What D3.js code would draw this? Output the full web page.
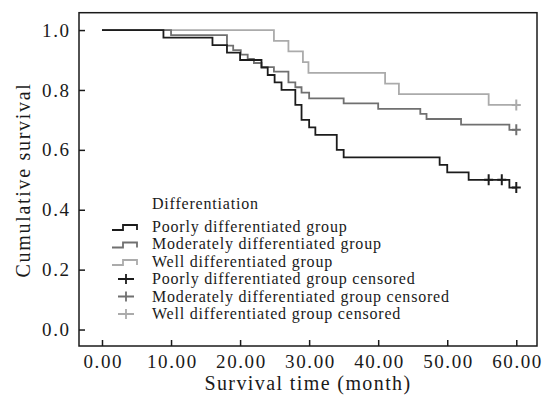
<!DOCTYPE html>
<html>
<head>
<meta charset="utf-8">
<script src="https://cdn.jsdelivr.net/npm/d3@7"></script>
<style>
  body { margin: 0; background: #fff; }
  text { font-family: "Liberation Serif", "Times New Roman", serif; fill: #1a1a1a; }
</style>
</head>
<body>
<div id="chart"></div>
<script>
// Kaplan-Meier steps (time in months, survival)
const poorTime = [0, 8.9, 16.0, 18.1, 20.0, 23.1, 24.0, 25.0, 26.0, 28.0, 28.9, 30.0, 30.9, 34.0, 35.0, 48.9, 50.0, 53.1, 59.0, 60.0];
const poorSurv = [1, 0.975, 0.95, 0.925, 0.9, 0.875, 0.85, 0.825, 0.8, 0.75, 0.70, 0.675, 0.65, 0.60, 0.575, 0.55, 0.525, 0.5, 0.474, 0.474];
const modTime = [0, 10.0, 18.1, 19.0, 20.1, 21.1, 22.0, 23.1, 24.9, 27.0, 28.0, 28.9, 30.0, 35.0, 40.0, 46.1, 47.0, 52.0, 59.0, 60.0];
const modSurv = [1, 0.983, 0.948, 0.933, 0.918, 0.904, 0.89, 0.876, 0.861, 0.825, 0.809, 0.791, 0.772, 0.755, 0.737, 0.72, 0.703, 0.684, 0.667, 0.667];
const wellTime = [0, 24.9, 27.0, 29.1, 29.9, 41.0, 43.0, 56.0, 60.0];
const wellSurv = [1, 0.964, 0.929, 0.893, 0.857, 0.821, 0.786, 0.75, 0.75];

const poorCensTime = [56.0, 57.9, 60.0];
const poorCensSurv = [0.5, 0.5, 0.474];
const modCensTime = [60.0];
const modCensSurv = [0.667];
const wellCensTime = [60.0];
const wellCensSurv = [0.75];

const xTicks = [0, 10, 20, 30, 40, 50, 60];
const yTicks = [0, 0.2, 0.4, 0.6, 0.8, 1.0];

const groups = ["Poorly differentiated group", "Moderately differentiated group", "Well differentiated group"];
const colors = ["#1c1c1c", "#707070", "#ababab"];

const width = 542, height = 400;
const margin = {top: 12.7, right: 5, bottom: 54, left: 79};

const x = d3.scaleLinear().domain([-3.33, 63.0]).range([margin.left, width - margin.right]);
const y = d3.scaleLinear().domain([-0.055, 1.058]).range([height - margin.bottom, margin.top]);

const svg = d3.select('#chart').append('svg')
  .attr('width', width)
  .attr('height', height)
  .attr('viewBox', `0 0 ${width} ${height}`);

// frame
svg.append('rect')
  .attr('x', margin.left).attr('y', margin.top)
  .attr('width', width - margin.left - margin.right)
  .attr('height', height - margin.top - margin.bottom)
  .attr('fill', 'none').attr('stroke', '#1a1a1a').attr('stroke-width', 1.5);

// axes with inward ticks
const xAxis = svg.append('g')
  .attr('transform', `translate(0,${height - margin.bottom})`)
  .call(d3.axisBottom(x).tickValues(xTicks).tickSize(-6).tickPadding(9).tickFormat(d3.format('.2f')));
const yAxis = svg.append('g')
  .attr('transform', `translate(${margin.left},0)`)
  .call(d3.axisLeft(y).tickValues(yTicks).tickSize(-6).tickPadding(10).tickFormat(d3.format('.1f')));

[xAxis, yAxis].forEach(a => {
  a.select('.domain').remove();
  a.selectAll('.tick line').attr('stroke', '#1a1a1a').attr('stroke-width', 1.5);
  a.selectAll('.tick text')
    .style('font-size', '19px')
    .style('letter-spacing', '1.6px')
    .attr('fill', '#1a1a1a');
});
xAxis.selectAll('.tick text').attr('dx', '0.8');
yAxis.selectAll('.tick text').attr('dx', '1.6');

svg.append('text')
  .attr('x', (margin.left + width - margin.right) / 2)
  .attr('y', 390)
  .attr('text-anchor', 'middle')
  .style('font-size', '20px')
  .style('letter-spacing', '1.4px')
  .text('Survival time (month)');

svg.append('text')
  .attr('transform', `translate(30,180) rotate(-90)`)
  .attr('text-anchor', 'middle')
  .style('font-size', '20px')
  .style('letter-spacing', '1.7px')
  .text('Cumulative survival');

// survival curves
const line = d3.line()
  .x(d => x(d[0]))
  .y(d => y(d[1]))
  .curve(d3.curveStepAfter);

const series = [
  d3.zip(poorTime, poorSurv),
  d3.zip(modTime, modSurv),
  d3.zip(wellTime, wellSurv)
];
const censored = [
  d3.zip(poorCensTime, poorCensSurv),
  d3.zip(modCensTime, modCensSurv),
  d3.zip(wellCensTime, wellCensSurv)
];

// draw light first so dark sits on top
[2, 1, 0].forEach(i => {
  svg.append('path')
    .datum(series[i])
    .attr('d', line)
    .attr('fill', 'none')
    .attr('stroke', colors[i])
    .attr('stroke-width', 1.8);

  svg.append('g').selectAll('path')
    .data(censored[i])
    .join('path')
    .attr('d', d => `M${x(d[0]) - 4.5},${y(d[1])}H${x(d[0]) + 4.5}M${x(d[0])},${y(d[1]) - 5.5}V${y(d[1]) + 5.5}`)
    .attr('stroke', colors[i])
    .attr('stroke-width', 2)
    .attr('fill', 'none');
});

// legend
const lg = svg.append('g');
lg.append('text')
  .attr('x', 152).attr('y', 209)
  .style('font-size', '16px')
  .style('letter-spacing', '0.8px')
  .text('Differentiation');

const rowY = i => 231.5 + i * 17.5;

groups.forEach((g, i) => {
  const cy = rowY(i) - 4;
  lg.append('path')
    .attr('d', `M112,${cy + 2.5}H123V${cy - 2.5}H137V${cy + 2.5}`)
    .attr('fill', 'none')
    .attr('stroke', colors[i])
    .attr('stroke-width', 1.8);
  lg.append('text')
    .attr('x', 152).attr('y', rowY(i))
    .style('font-size', '16px')
    .style('letter-spacing', '0.8px')
    .text(g);
});

groups.forEach((g, i) => {
  const k = i + 3;
  const cy = rowY(k) - 5;
  lg.append('path')
    .attr('d', `M118,${cy}H134M126,${cy - 5}V${cy + 5}`)
    .attr('fill', 'none')
    .attr('stroke', colors[i])
    .attr('stroke-width', 1.8);
  lg.append('text')
    .attr('x', 152).attr('y', rowY(k))
    .style('font-size', '16px')
    .style('letter-spacing', '0.8px')
    .text(g + ' censored');
});
</script>
</body>
</html>
